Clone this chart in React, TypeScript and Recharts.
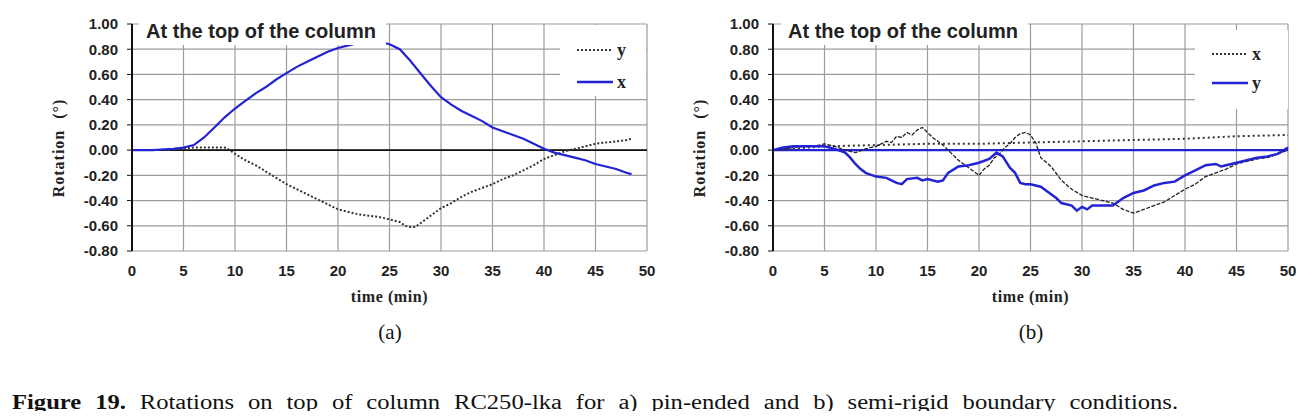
import React from 'react';
import { LineChart, Line, XAxis, YAxis, CartesianGrid, ReferenceLine, Legend } from 'recharts';

// axis ticks shared by both panels
const timeTicks = [0, 5, 10, 15, 20, 25, 30, 35, 40, 45, 50];
const rotationTicks = [-0.8, -0.6, -0.4, -0.2, 0, 0.2, 0.4, 0.6, 0.8, 1.0];

// (a) pin-ended
const pinXTime = [0, 2, 4, 5, 6, 7, 8, 9, 10, 11, 12, 13, 14, 15, 16, 17, 18, 19, 20, 21, 22, 23, 24, 25, 26, 27, 28, 29, 30, 31, 32, 33, 34, 35, 36, 37, 38, 39, 40, 41, 42, 43, 44, 45, 46, 47, 48, 48.5];
const pinXRot = [0, 0, 0.01, 0.02, 0.04, 0.1, 0.18, 0.26, 0.33, 0.39, 0.45, 0.5, 0.56, 0.61, 0.66, 0.7, 0.74, 0.78, 0.81, 0.83, 0.85, 0.86, 0.86, 0.84, 0.8, 0.71, 0.61, 0.51, 0.42, 0.36, 0.31, 0.27, 0.23, 0.18, 0.15, 0.12, 0.09, 0.05, 0.01, -0.02, -0.04, -0.06, -0.08, -0.11, -0.13, -0.15, -0.18, -0.19];

const pinYTime = [0, 3, 5, 6, 7, 8, 9, 9.5, 10, 11, 12, 13, 14, 15, 16, 17, 18, 19, 20, 21, 22, 23, 24, 25, 26, 26.5, 27, 27.5, 28, 29, 30, 31, 32, 33, 34, 35, 36, 37, 38, 39, 40, 41, 42, 43, 44, 45, 46, 47, 48, 48.5];
const pinYRot = [0, 0, 0.01, 0.02, 0.02, 0.02, 0.02, 0, -0.03, -0.08, -0.12, -0.17, -0.22, -0.27, -0.31, -0.35, -0.39, -0.43, -0.47, -0.49, -0.51, -0.52, -0.53, -0.55, -0.57, -0.6, -0.61, -0.61, -0.58, -0.52, -0.46, -0.42, -0.37, -0.33, -0.3, -0.27, -0.23, -0.2, -0.16, -0.12, -0.07, -0.04, -0.01, 0.01, 0.03, 0.05, 0.06, 0.07, 0.08, 0.09];

// (b) semi-rigid
const semiXTime = [0, 5, 10, 15, 20, 25, 30, 35, 40, 45, 50];
const semiXRot = [0, 0.03, 0.04, 0.05, 0.05, 0.06, 0.07, 0.08, 0.09, 0.11, 0.12];

const semiMeasTime = [0, 1, 2, 3, 4, 5, 5.5, 6, 7, 8, 9, 10, 10.5, 11, 11.5, 12, 12.5, 13, 13.5, 14, 14.5, 15, 15.5, 16, 16.5, 17, 18, 19, 19.5, 20, 20.5, 21, 21.5, 22, 22.5, 23, 23.5, 24, 24.5, 25, 25.5, 26, 27, 28, 29, 30, 31, 32, 33, 34, 35, 36, 37, 38, 39, 40, 41, 42, 43, 44, 45, 46, 47, 48, 49, 50];
const semiMeasRot = [0, 0.01, 0.02, 0.03, 0.03, 0.05, 0.04, 0.03, 0, -0.02, 0.01, 0.03, 0.05, 0.07, 0.06, 0.11, 0.1, 0.14, 0.12, 0.16, 0.18, 0.14, 0.1, 0.07, 0.04, 0, -0.08, -0.14, -0.17, -0.2, -0.15, -0.12, -0.06, -0.03, 0.02, 0.05, 0.1, 0.13, 0.14, 0.12, 0.06, -0.06, -0.13, -0.24, -0.31, -0.36, -0.38, -0.4, -0.42, -0.47, -0.5, -0.47, -0.44, -0.41, -0.36, -0.31, -0.27, -0.21, -0.18, -0.15, -0.11, -0.09, -0.07, -0.06, -0.03, 0];

const semiYTime = [0, 1, 2, 3, 4, 5, 6, 7, 7.5, 8, 8.5, 9, 10, 11, 11.5, 12, 12.5, 13, 14, 14.5, 15, 16, 16.5, 17, 18, 19, 20, 21, 21.7, 22.3, 23, 23.5, 24, 24.5, 25, 26, 27, 27.5, 28, 29, 29.5, 30, 30.5, 31, 32, 33, 34, 35, 36, 37, 38, 39, 40, 41, 42, 43, 43.5, 44, 45, 46, 47, 48, 49, 50];
const semiYRot = [0, 0.02, 0.03, 0.03, 0.03, 0.03, 0.01, -0.02, -0.06, -0.11, -0.15, -0.18, -0.21, -0.22, -0.24, -0.26, -0.27, -0.23, -0.22, -0.24, -0.23, -0.25, -0.24, -0.18, -0.13, -0.12, -0.1, -0.07, -0.02, -0.05, -0.14, -0.18, -0.26, -0.27, -0.27, -0.29, -0.35, -0.38, -0.42, -0.44, -0.48, -0.45, -0.47, -0.44, -0.44, -0.44, -0.38, -0.34, -0.32, -0.28, -0.26, -0.25, -0.2, -0.16, -0.12, -0.11, -0.13, -0.12, -0.1, -0.08, -0.06, -0.05, -0.03, 0.02];

const toPoints = (t: number[], v: number[]) => t.map((time, i) => ({ t: time, r: v[i] }));

const BLUE = '#2323d6';
const GRID = '#9c9c9c';
const sans = '"Liberation Sans", Arial, sans-serif';
const serif = '"Liberation Serif", "Times New Roman", serif';

const YTitle = () => (
  <text
    x={58}
    y={148}
    transform="rotate(-90, 58, 148)"
    textAnchor="middle"
    dominantBaseline="central"
    style={{ fontFamily: serif, fontWeight: 700, fontSize: 16, fill: '#222', letterSpacing: 1, wordSpacing: 6 }}
  >
    Rotation (°)
  </text>
);

type LegendRow = { label: string; dashed: boolean; color: string };

const makeLegend = (rows: LegendRow[], rowGap: number) => () => (
  <div style={{ background: '#fff', width: '100%', height: '100%', paddingTop: 9 }}>
    {rows.map((row) => (
      <div key={row.label} style={{ display: 'flex', alignItems: 'center', height: rowGap, marginLeft: 17 }}>
        <svg width={37} height={6}>
          <line x1={0} y1={3} x2={36} y2={3} stroke={row.color} strokeWidth={row.dashed ? 2 : 2.5} strokeDasharray={row.dashed ? '2 2' : undefined} />
        </svg>
        <span style={{ fontFamily: serif, fontWeight: 700, fontSize: 18, marginLeft: 3, color: '#222', lineHeight: '18px' }}>{row.label}</span>
      </div>
    ))}
  </div>
);

type Series = { name: string; data: { t: number; r: number }[]; color: string; width: number; dash?: string };

type PanelProps = {
  left: number;
  series: Series[];
  zeroColor: string;
  zeroWidth: number;
  legendRows: LegendRow[];
  legendBox: { left: number; top: number; width: number; height: number; gap: number };
  titleLeft: number;
  tag: string;
};

const Panel = ({ left, series, zeroColor, zeroWidth, legendRows, legendBox, titleLeft, tag }: PanelProps) => (
  <div style={{ position: 'absolute', left, top: 0, width: 660, height: 350 }}>
    <LineChart width={660} height={320} margin={{ top: 24, right: 13, bottom: 0, left: 0 }}>
      <CartesianGrid stroke={GRID} strokeWidth={1.2} />
      <XAxis
        type="number"
        dataKey="t"
        domain={[0, 50]}
        ticks={timeTicks}
        axisLine={false}
        tickLine={false}
        tickSize={0}
        tickMargin={14}
        height={69}
        tick={{ fontFamily: sans, fontWeight: 700, fontSize: 15, fill: '#222' }}
        label={{ value: 'time (min)', position: 'insideBottom', offset: 18, style: { fontFamily: serif, fontWeight: 700, fontSize: 16, fill: '#222', letterSpacing: 0.6 } }}
      />
      <YAxis
        type="number"
        domain={[-0.8, 1]}
        ticks={rotationTicks}
        width={132}
        axisLine={{ stroke: '#111', strokeWidth: 2 }}
        tickLine={{ stroke: '#111' }}
        tickSize={5}
        tickMargin={9}
        tickFormatter={(v: number) => v.toFixed(2)}
        tick={{ fontFamily: sans, fontWeight: 700, fontSize: 15, fill: '#222' }}
        label={<YTitle />}
      />
      <ReferenceLine y={0} stroke={zeroColor} strokeWidth={zeroWidth} />
      {series.map((s) => (
        <Line
          key={s.name}
          data={s.data}
          dataKey="r"
          name={s.name}
          type="linear"
          stroke={s.color}
          strokeWidth={s.width}
          strokeDasharray={s.dash}
          dot={false}
          isAnimationActive={false}
        />
      ))}
      <Legend
        layout="vertical"
        align="center"
        verticalAlign="middle"
        content={makeLegend(legendRows, legendBox.gap)}
        wrapperStyle={{ left: legendBox.left, top: legendBox.top, width: legendBox.width, height: legendBox.height }}
      />
    </LineChart>
    <div
      style={{
        position: 'absolute',
        left: titleLeft,
        top: 14,
        width: 247,
        height: 31,
        background: '#fff',
        fontFamily: sans,
        fontWeight: 700,
        fontSize: 20,
        lineHeight: '20px',
        color: '#222',
        paddingTop: 7,
        paddingLeft: 7,
        boxSizing: 'border-box',
        whiteSpace: 'nowrap',
      }}
    >
      At the top of the column
    </div>
    <div style={{ position: 'absolute', left: 0, width: 660, top: 320, textAlign: 'center', paddingLeft: 120, boxSizing: 'border-box', fontFamily: serif, fontSize: 21, color: '#111' }}>
      {tag}
    </div>
  </div>
);

const App = () => {
  const pinSeries: Series[] = [
    { name: 'y', data: toPoints(pinYTime, pinYRot), color: '#333', width: 2, dash: '2 2' },
    { name: 'x', data: toPoints(pinXTime, pinXRot), color: BLUE, width: 2.2 },
  ];
  const semiSeries: Series[] = [
    { name: 'x', data: toPoints(semiXTime, semiXRot), color: '#333', width: 2, dash: '2 3' },
    { name: 'x measured', data: toPoints(semiMeasTime, semiMeasRot), color: '#222', width: 1.3, dash: '4 1.5' },
    { name: 'y', data: toPoints(semiYTime, semiYRot), color: BLUE, width: 2.5 },
  ];

  return (
    <div style={{ position: 'relative', margin: -8, width: 1316, height: 419, background: '#fff', overflow: 'hidden' }}>
      <Panel
        left={0}
        series={pinSeries}
        zeroColor="#111"
        zeroWidth={1.6}
        legendRows={[
          { label: 'y', dashed: true, color: '#333' },
          { label: 'x', dashed: false, color: BLUE },
        ]}
        legendBox={{ left: 560, top: 25, width: 86, height: 62, gap: 32 }}
        titleLeft={139}
        tag="(a)"
      />
      <Panel
        left={641}
        series={semiSeries}
        zeroColor={BLUE}
        zeroWidth={2.4}
        legendRows={[
          { label: 'x', dashed: true, color: '#333' },
          { label: 'y', dashed: false, color: BLUE },
        ]}
        legendBox={{ left: 554, top: 30, width: 93, height: 70, gap: 29 }}
        titleLeft={140}
        tag="(b)"
      />
      <div
        style={{
          position: 'absolute',
          left: 12,
          top: 392,
          width: 948,
          transform: 'scaleX(1.23)',
          transformOrigin: 'left top',
          fontFamily: serif,
          fontSize: 20,
          lineHeight: '20px',
          color: '#111',
          textAlign: 'justify',
          textAlignLast: 'justify',
          whiteSpace: 'nowrap',
        }}
      >
        <b>Figure 19.</b> Rotations on top of column RC250-lka for a) pin-ended and b) semi-rigid boundary conditions.
      </div>
    </div>
  );
};

export default App;
